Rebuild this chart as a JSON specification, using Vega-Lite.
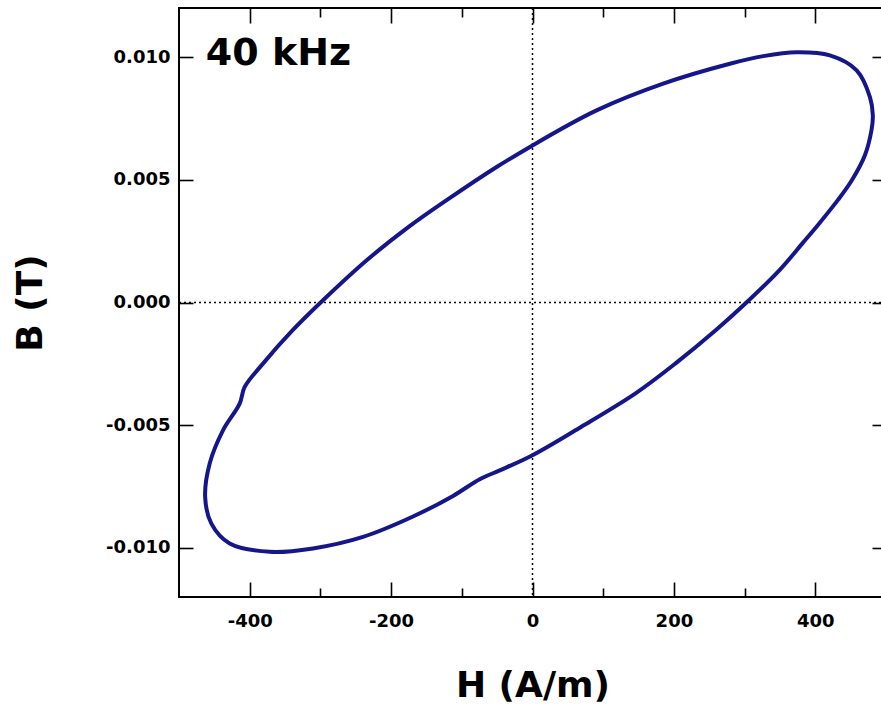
{
  "$schema": "https://vega.github.io/schema/vega-lite/v6.json",
  "width": 707,
  "height": 589,
  "autosize": {"type": "none"},
  "padding": {"left": 179, "top": 8, "right": 0, "bottom": 109},
  "background": "white",
  "config": {
    "view": {"stroke": "black", "strokeWidth": 2},
    "axis": {
      "labelFont": "DejaVu Sans",
      "labelFontWeight": "bold",
      "labelFontSize": 18,
      "labelColor": "black",
      "titleFont": "DejaVu Sans",
      "titleFontWeight": "bold",
      "titleFontSize": 36,
      "titleColor": "black",
      "tickColor": "black",
      "tickWidth": 1.6,
      "domain": false,
      "grid": false
    }
  },
  "resolve": {"axis": {"x": "independent", "y": "independent"}},
  "datasets": {
    "loop": [
      {"i": 0, "H": 0, "B": 0.0064},
      {"i": 1, "H": 90.6, "B": 0.00783},
      {"i": 2, "H": 184.8, "B": 0.00892},
      {"i": 3, "H": 279.2, "B": 0.00973},
      {"i": 4, "H": 326.3, "B": 0.01004},
      {"i": 5, "H": 373.6, "B": 0.0102},
      {"i": 6, "H": 420.7, "B": 0.01007},
      {"i": 7, "H": 458.5, "B": 0.00946},
      {"i": 8, "H": 477.3, "B": 0.00837},
      {"i": 9, "H": 481.4, "B": 0.00762},
      {"i": 10, "H": 479.5, "B": 0.00703},
      {"i": 11, "H": 470.3, "B": 0.00601},
      {"i": 12, "H": 451.9, "B": 0.00499},
      {"i": 13, "H": 432.1, "B": 0.00418},
      {"i": 14, "H": 403.8, "B": 0.00316},
      {"i": 15, "H": 382.6, "B": 0.00244},
      {"i": 16, "H": 350.1, "B": 0.00134},
      {"i": 17, "H": 303.4, "B": 0.00002},
      {"i": 18, "H": 259.5, "B": -0.00112},
      {"i": 19, "H": 202.8, "B": -0.00247},
      {"i": 20, "H": 146.3, "B": -0.00369},
      {"i": 21, "H": 68.6, "B": -0.00507},
      {"i": 22, "H": 0, "B": -0.00622},
      {"i": 23, "H": -46.3, "B": -0.00684},
      {"i": 24, "H": -74.6, "B": -0.0072},
      {"i": 25, "H": -112.4, "B": -0.00788},
      {"i": 26, "H": -169, "B": -0.00872},
      {"i": 27, "H": -239.7, "B": -0.00955},
      {"i": 28, "H": -310.5, "B": -0.01002},
      {"i": 29, "H": -371.7, "B": -0.01016},
      {"i": 30, "H": -428.3, "B": -0.00982},
      {"i": 31, "H": -454.2, "B": -0.00901},
      {"i": 32, "H": -463, "B": -0.00793},
      {"i": 33, "H": -456.6, "B": -0.00656},
      {"i": 34, "H": -437.8, "B": -0.00521},
      {"i": 35, "H": -414.2, "B": -0.00412},
      {"i": 36, "H": -407.1, "B": -0.00344},
      {"i": 37, "H": -381.2, "B": -0.00249},
      {"i": 38, "H": -339.2, "B": -0.00113},
      {"i": 39, "H": -296.3, "B": 0.00009},
      {"i": 40, "H": -234.1, "B": 0.00173},
      {"i": 41, "H": -174.7, "B": 0.00309},
      {"i": 42, "H": -120.9, "B": 0.00418},
      {"i": 43, "H": -50.2, "B": 0.00553},
      {"i": 44, "H": 0, "B": 0.0064}
    ],
    "zero": [{"H": 0, "B": 0}],
    "label": [{"text": "40 kHz", "H": -462, "B": 0.00968}]
  },
  "layer": [
    {
      "data": {"name": "zero"},
      "mark": {"type": "rule", "color": "black", "strokeWidth": 1.5, "strokeDash": [2, 3]},
      "encoding": {
        "x": {"field": "H", "type": "quantitative", "scale": {"domain": [-500, 500], "nice": false, "zero": false},
          "axis": {"orient": "top", "values": [-400, -200, 0, 200, 400], "labels": false, "tickSize": -15, "title": null}}
      }
    },
    {
      "data": {"name": "zero"},
      "mark": {"type": "rule", "color": "black", "strokeWidth": 1.5, "strokeDash": [2, 3]},
      "encoding": {
        "y": {"field": "B", "type": "quantitative", "scale": {"domain": [-0.012, 0.012], "nice": false, "zero": false},
          "axis": {"orient": "right", "values": [-0.01, -0.005, 0, 0.005, 0.01], "labels": false, "tickSize": -14, "title": null}}
      }
    },
    {
      "data": {"name": "loop"},
      "mark": {"type": "line", "color": "#16168c", "strokeWidth": 4, "interpolate": "catmull-rom", "strokeJoin": "round", "strokeCap": "round"},
      "encoding": {
        "x": {"field": "H", "type": "quantitative", "scale": {"domain": [-500, 500], "nice": false, "zero": false},
          "axis": {"orient": "bottom", "values": [-400, -200, 0, 200, 400], "tickSize": -15, "labelPadding": 30,
            "labelExpr": "datum.value < 0 ? '-' + format(-datum.value, 'd') : format(datum.value, 'd')",
            "title": "H (A/m)", "titlePadding": 38}},
        "y": {"field": "B", "type": "quantitative", "scale": {"domain": [-0.012, 0.012], "nice": false, "zero": false},
          "axis": {"orient": "left", "values": [-0.01, -0.005, 0, 0.005, 0.01], "tickSize": -14, "labelPadding": 23,
            "labelExpr": "datum.value < 0 ? '-' + format(-datum.value, '.3f') : format(datum.value, '.3f')",
            "title": "B (T)", "titlePadding": 56}},
        "order": {"field": "i", "type": "quantitative"}
      }
    },
    {
      "data": {"name": "label"},
      "mark": {"type": "text", "font": "DejaVu Sans", "fontWeight": "bold", "fontSize": 38, "align": "left", "baseline": "alphabetic", "color": "black"},
      "encoding": {
        "x": {"field": "H", "type": "quantitative", "scale": {"domain": [-500, 500], "nice": false, "zero": false},
          "axis": {"orient": "bottom", "values": [-300, -100, 100, 300], "labels": false, "tickSize": -9, "title": null}},
        "y": {"field": "B", "type": "quantitative", "scale": {"domain": [-0.012, 0.012], "nice": false, "zero": false}, "axis": null},
        "text": {"field": "text"}
      }
    },
    {
      "data": {"name": "label"},
      "mark": {"type": "point", "opacity": 0},
      "encoding": {
        "x": {"field": "H", "type": "quantitative", "scale": {"domain": [-500, 500], "nice": false, "zero": false},
          "axis": {"orient": "top", "values": [-300, -100, 100, 300], "labels": false, "tickSize": -9, "title": null}},
        "y": {"field": "B", "type": "quantitative", "scale": {"domain": [-0.012, 0.012], "nice": false, "zero": false}, "axis": null}
      }
    }
  ]
}
